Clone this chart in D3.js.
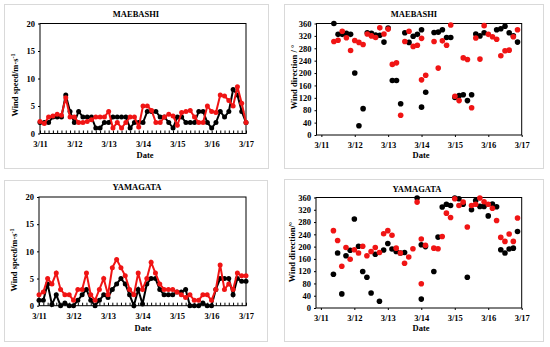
<!DOCTYPE html>
<html>
<head>
<meta charset="utf-8">
<script src="https://cdn.jsdelivr.net/npm/d3@7"></script>
<style>
  body { margin: 0; background: #fff; }
  text { font-family: "Liberation Serif", "Times New Roman", serif; font-weight: bold; fill: #000; }
</style>
</head>
<body>
<svg id="chart" width="550" height="347"></svg>
<script>
// x tick labels (one per day, hours counted from 3/11 00:00)
const dateLabels = ['3/11', '3/12', '3/13', '3/14', '3/15', '3/16', '3/17'];
const speedTicks = [0, 5, 10, 15, 20];
const dirTicks = [0, 40, 80, 120, 160, 200, 240, 280, 320, 360];

// wind speed, every 3 hours from 3/11 00:00 to 3/17 00:00
const maebashiObsSpeed = [2,2,2,3,3,3,7,4, 2,4,3,3,3,1,1,2, 2,3,3,3,3,1,2,2, 2,4,4,4,3,3,2,1, 3,3,2,2,2,4,4,2, 1,2,4,3,4,8,7,4, 2];
const maebashiModSpeed = [2.2,1.8,3,3.2,3.5,3.3,6.5,3, 3,2,2,2.2,2.5,3,3,3, 4,1,2,1,2,3,3,1.2, 5,5,4.2,2,2,3,3.5,3.2, 1.5,3.8,4,4.2,3,2,2,5, 4,3.8,7,6.8,6,5,8.5,5.5, 2];
const yamagataObsSpeed = [1,1,4,0.2,2,0,0.5,0, 0,1,2,3,1,0,1,2, 1.5,3,4,5,4,2,0,3, 0.3,4,5,5,3,2,2,2, 2.5,2.5,3,0,0,0,0.5,0, 0,3,5,5,5,2,5,4.5, 4.5];
const yamagataModSpeed = [2,2.5,5,4,6,3,2,2, 1,3,3,6,2,1,3,5, 2,7,8.5,7,5.5,3,2,6, 3,5,8,6,4,3,3,3, 2.5,2,1.5,2,1,1,2,2, 1,3,7.5,3,4,3,6,5.5, 5.5];

// wind direction, [hour, degrees]
const maebashiObsDir = [[9,360],[12,325],[15,325],[18,328],[21,325],[24,200],[27,30],[30,85],[33,330],[36,328],[39,323],[42,322],[45,300],[48,345],[51,176],[54,176],[57,101],[60,330],[63,299],[66,319],[69,325],[72,340],[72,90],[75,138],[81,331],[84,332],[87,340],[90,315],[93,315],[96,121],[99,127],[102,130],[105,111],[108,130],[111,326],[114,320],[117,330],[126,340],[129,343],[132,351],[135,330],[138,320],[141,300]];
const maebashiModDir = [[9,302],[12,306],[15,335],[18,314],[21,273],[24,305],[27,299],[30,292],[33,326],[36,320],[39,315],[42,346],[45,326],[48,342],[51,228],[54,233],[57,64],[60,302],[63,335],[66,286],[69,290],[72,312],[72,178],[75,193],[81,302],[84,216],[87,304],[90,290],[93,355],[96,125],[99,111],[102,249],[105,244],[108,88],[111,313],[114,245],[117,353],[120,325],[123,317],[126,309],[129,256],[132,272],[135,274],[138,317],[141,340]];
const yamagataObsDir = [[9,110],[12,179],[15,46],[18,170],[21,188],[24,290],[27,201],[30,119],[33,100],[36,49],[39,175],[42,22],[45,189],[48,210],[51,192],[54,184],[57,179],[60,181],[69,358],[72,206],[72,29],[75,200],[81,119],[84,231],[87,329],[90,338],[93,334],[96,358],[99,356],[102,338],[105,100],[108,320],[111,350],[114,331],[117,331],[120,300],[123,339],[126,330],[129,190],[132,179],[135,192],[138,195],[141,249]];
const yamagataModDir = [[9,252],[12,220],[15,136],[18,197],[21,159],[24,190],[27,179],[30,201],[33,170],[36,184],[39,197],[42,181],[45,242],[48,252],[51,237],[54,195],[57,179],[60,146],[63,166],[66,193],[69,345],[72,225],[72,79],[75,204],[81,195],[84,193],[87,233],[90,309],[93,295],[96,356],[99,334],[102,345],[105,264],[108,334],[111,338],[114,358],[117,346],[120,338],[123,325],[126,285],[129,230],[132,217],[135,241],[138,217],[141,293]];

const RED = '#f01414';
const svg = d3.select('#chart');

function panelBorder(x0, y0, x1, y1) {
  svg.append('rect')
    .attr('x', x0 + 0.5).attr('y', y0 + 0.5)
    .attr('width', x1 - x0).attr('height', y1 - y0)
    .attr('fill', 'none').attr('stroke', '#d9d9d9');
}

function styleAxis(g) {
  g.select('.domain').remove();
  g.attr('font-family', null).attr('font-size', null);
  g.selectAll('line').attr('stroke', '#000');
  g.selectAll('text').style('font-size', '8.5px');
}

function plotFrame(x, y) {
  const [x0, x1] = x.range();
  const [y1, y0] = y.range();
  svg.append('rect')
    .attr('x', x0).attr('y', y0)
    .attr('width', x1 - x0).attr('height', y1 - y0)
    .attr('fill', 'none').attr('stroke', '#000').attr('stroke-width', 1);
}

function labels(p, x, y) {
  svg.append('text')
    .attr('x', p.titleX).attr('y', p.titleY)
    .attr('text-anchor', 'middle').style('font-size', '8.5px')
    .text(p.title);

  svg.append('text')
    .attr('x', p.dateX).attr('y', p.dateY)
    .attr('text-anchor', 'middle').style('font-size', '8.5px')
    .text('Date');

  const yt = svg.append('text')
    .attr('transform', `translate(${p.ytX},${p.ytY}) rotate(-90)`)
    .attr('text-anchor', 'middle').style('font-size', '8.5px');
  yt.append('tspan').text(p.yTitle);
  if (p.sup) {
    yt.append('tspan').attr('dy', -3).style('font-size', '6px').text(p.sup);
  }
}

function drawSpeedPanel(p) {
  const x = d3.scaleLinear().domain([0, 144]).range([p.left, p.right]);
  const y = d3.scaleLinear().domain([0, 20]).range([p.bottom, p.top]);

  svg.append('g')
    .attr('transform', `translate(${p.left},0)`)
    .call(d3.axisLeft(y).tickValues(speedTicks).tickSize(2).tickPadding(3))
    .call(styleAxis);

  // small inner ticks every 3 hours
  svg.append('g')
    .attr('transform', `translate(0,${p.bottom})`)
    .call(d3.axisBottom(x).tickValues(d3.range(0, 145, 3)).tickSize(-3).tickFormat(''))
    .call(styleAxis);

  svg.append('g')
    .attr('transform', `translate(0,${p.bottom})`)
    .call(d3.axisBottom(x).tickValues(d3.range(0, 145, 24)).tickSize(0).tickPadding(7)
      .tickFormat((d, i) => dateLabels[i]))
    .call(styleAxis);

  plotFrame(x, y);

  const line = d3.line().x((d, i) => x(i * 3)).y(d => y(d));
  [[p.obs, '#000'], [p.mod, RED]].forEach(([data, color]) => {
    svg.append('path')
      .datum(data)
      .attr('d', line)
      .attr('fill', 'none')
      .attr('stroke', color)
      .attr('stroke-width', 2);
    svg.append('g').selectAll('circle')
      .data(data)
      .enter()
      .append('circle')
      .attr('cx', (d, i) => x(i * 3))
      .attr('cy', d => y(d))
      .attr('r', 2.5)
      .attr('fill', color);
  });

  labels(p, x, y);
}

function drawDirPanel(p) {
  const x = d3.scaleLinear().domain([-3.5, 144]).range([p.left, p.right]);
  const y = d3.scaleLinear().domain([0, 360]).range([p.bottom, p.top]);

  svg.append('g')
    .attr('transform', `translate(${p.left},0)`)
    .call(d3.axisLeft(y).tickValues(dirTicks).tickSize(2).tickPadding(3))
    .call(styleAxis);

  svg.append('g')
    .attr('transform', `translate(0,${p.bottom})`)
    .call(d3.axisBottom(x).tickValues(d3.range(0, 145, 24)).tickSize(2).tickPadding(5)
      .tickFormat((d, i) => dateLabels[i]))
    .call(styleAxis);

  plotFrame(x, y);

  [[p.obs, '#000'], [p.mod, RED]].forEach(([data, color]) => {
    svg.append('g').selectAll('circle')
      .data(data)
      .enter()
      .append('circle')
      .attr('cx', d => x(d[0]))
      .attr('cy', d => y(d[1]))
      .attr('r', 2.8)
      .attr('fill', color);
  });

  labels(p, x, y);
}

panelBorder(4, 4, 268, 168);
panelBorder(284, 4, 543, 168);
panelBorder(4, 180, 267, 341);
panelBorder(284, 179, 543, 341);

drawSpeedPanel({
  left: 40, right: 246, top: 23.5, bottom: 133.5,
  obs: maebashiObsSpeed, mod: maebashiModSpeed,
  title: 'MAEBASHI', titleX: 136, titleY: 17,
  dateX: 145, dateY: 158, ytX: 18, ytY: 85,
  yTitle: 'Wind speed/m·s', sup: '-1'
});

drawDirPanel({
  left: 316.5, right: 521.7, top: 23.5, bottom: 135,
  obs: maebashiObsDir, mod: maebashiModDir,
  title: 'MAEBASHI', titleX: 414, titleY: 17,
  dateX: 421, dateY: 158, ytX: 297, ytY: 77,
  yTitle: 'Wind direction / °'
});

drawSpeedPanel({
  left: 39, right: 246, top: 197, bottom: 305.7,
  obs: yamagataObsSpeed, mod: yamagataModSpeed,
  title: 'YAMAGATA', titleX: 137, titleY: 190,
  dateX: 143, dateY: 331, ytX: 17, ytY: 260,
  yTitle: 'Wind speed/m·s', sup: '-1'
});

drawDirPanel({
  left: 316, right: 521.7, top: 197.5, bottom: 308,
  obs: yamagataObsDir, mod: yamagataModDir,
  title: 'YAMAGATA', titleX: 417, titleY: 192,
  dateX: 421, dateY: 331, ytX: 295, ytY: 252,
  yTitle: 'Wind direction/°'
});
</script>
</body>
</html>
